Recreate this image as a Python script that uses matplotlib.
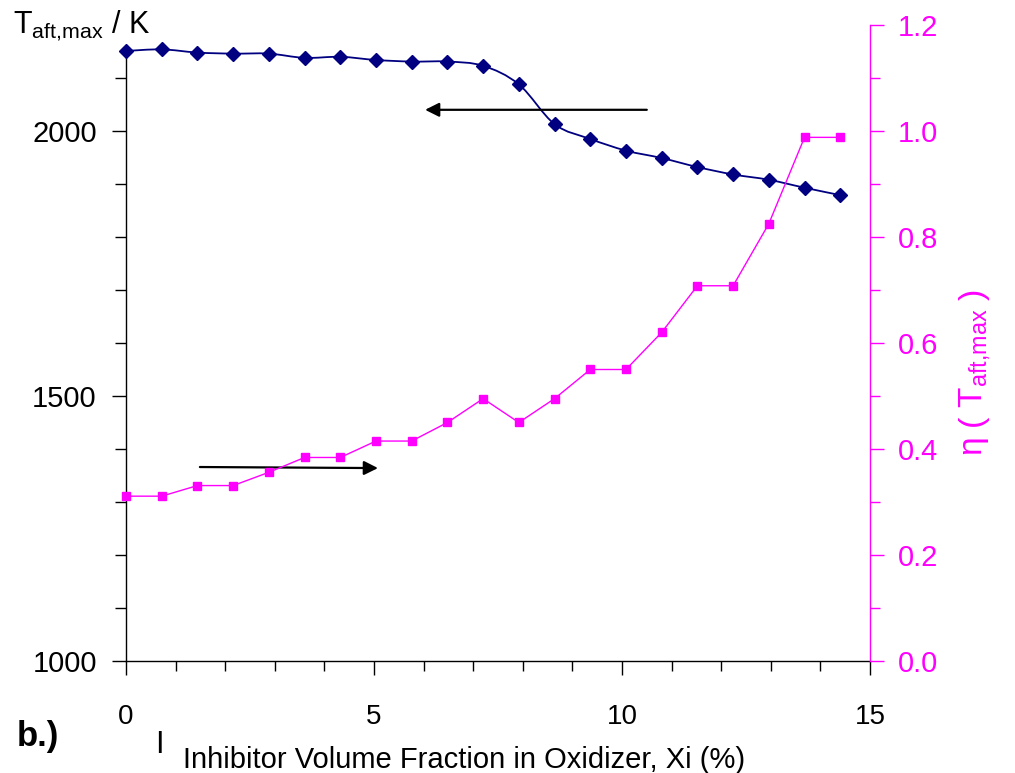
import matplotlib
matplotlib.use("Agg")
import matplotlib.pyplot as plt
from matplotlib.ticker import MultipleLocator, FixedLocator, FormatStrFormatter
from matplotlib.path import Path
from matplotlib.patches import PathPatch

plt.rcParams['font.family'] = ['Liberation Sans', 'DejaVu Sans']
plt.rcParams['mathtext.fontset'] = 'custom'
plt.rcParams['mathtext.rm'] = 'Liberation Sans'
plt.rcParams['mathtext.it'] = 'Liberation Sans:italic'

# inhibitor volume fraction (%)
xi = [0, 0.72, 1.44, 2.16, 2.88, 3.6, 4.32, 5.04, 5.76, 6.48, 7.2,
      7.92, 8.64, 9.36, 10.08, 10.8, 11.52, 12.24, 12.96, 13.68, 14.4]
# max adiabatic flame temperature (K)
t_aft = [2151, 2154, 2148, 2146, 2146, 2138, 2140, 2134, 2131, 2131, 2123,
         2088, 2013, 1985, 1963, 1949, 1932, 1918, 1908, 1893, 1879]
# efficiency eta
eta = [0.311, 0.311, 0.331, 0.331, 0.356, 0.384, 0.384, 0.415, 0.415, 0.450, 0.495,
       0.450, 0.495, 0.550, 0.550, 0.620, 0.708, 0.708, 0.825, 0.988, 0.988]

navy = '#000080'
mag = '#FF00FF'


def smooth_path(x, y):
    # excel style smoothed line: bezier segments through the points
    n = len(x)
    verts = [(x[0], y[0])]
    codes = [Path.MOVETO]
    for i in range(n - 1):
        i0 = max(i - 1, 0)
        i3 = min(i + 2, n - 1)
        c1 = (x[i] + (x[i + 1] - x[i0]) / 6, y[i] + (y[i + 1] - y[i0]) / 6)
        c2 = (x[i + 1] - (x[i3] - x[i]) / 6, y[i + 1] - (y[i3] - y[i]) / 6)
        verts += [c1, c2, (x[i + 1], y[i + 1])]
        codes += [Path.CURVE4] * 3
    return Path(verts, codes)


fig = plt.figure(figsize=(10.15, 7.73), dpi=100)
ax = fig.add_axes([126/1015, 1 - 661/773, (870 - 126)/1015, (661 - 25)/773])
ax2 = ax.twinx()

ax2.plot(xi, eta, color=mag, lw=1.0, marker='s', ms=6, clip_on=False, zorder=3)
ax.add_patch(PathPatch(smooth_path(xi, t_aft), facecolor='none', edgecolor=navy, lw=1.3,
                       zorder=3, clip_on=False))
ax.plot(xi, t_aft, color=navy, ls='none', marker='D', ms=7, clip_on=False, zorder=4)

ax.set_xlim(0, 15)
ax.set_ylim(1000, 2200)
ax2.set_ylim(0, 1.2)

ax.xaxis.set_major_locator(MultipleLocator(5))
ax.xaxis.set_minor_locator(MultipleLocator(1))
ax.yaxis.set_major_locator(FixedLocator([1000, 1500, 2000]))
ax.yaxis.set_minor_locator(FixedLocator([1100, 1200, 1300, 1400, 1600, 1700, 1800, 1900, 2100]))
ax2.yaxis.set_major_locator(MultipleLocator(0.2))
ax2.yaxis.set_minor_locator(MultipleLocator(0.1))
ax2.yaxis.set_major_formatter(FormatStrFormatter('%.1f'))

for s in ['top', 'right']:
    ax.spines[s].set_visible(False)
for s in ['top', 'left', 'bottom']:
    ax2.spines[s].set_visible(False)
ax.spines['left'].set_bounds(1000, 2150)
ax2.spines['right'].set_color(mag)
ax.spines['left'].set_linewidth(1.0)
ax.spines['bottom'].set_linewidth(1.0)
ax2.spines['right'].set_linewidth(1.0)

ax.tick_params(axis='x', which='major', direction='out', length=10, width=1, pad=21, labelsize=20)
ax.tick_params(axis='x', which='minor', direction='out', length=7, width=1)
ax.tick_params(axis='y', which='major', direction='out', length=10, width=1, pad=11, labelsize=21)
ax.tick_params(axis='y', which='minor', direction='out', length=8, width=1)
ax2.tick_params(axis='y', which='major', direction='out', length=10, width=1, pad=10,
                labelsize=21, colors=mag)
ax2.tick_params(axis='y', which='minor', direction='out', length=7, width=1, colors=mag)

# arrows pointing to the relevant axis
ax.annotate('', xy=(6.03, 2040), xytext=(10.5, 2040),
            arrowprops=dict(arrowstyle='-|>', mutation_scale=21, lw=1.6, color='black',
                            shrinkA=0, shrinkB=0))
ax.annotate('', xy=(5.08, 1364), xytext=(1.49, 1366),
            arrowprops=dict(arrowstyle='-|>', mutation_scale=21, lw=1.6, color='black',
                            shrinkA=0, shrinkB=0))

fig.text(13/1015, 1 - 33/773, r'T$_{\mathrm{aft{,}max}}$ / K', fontsize=22, ha='left', va='baseline')
fig.text(975/1015, 1 - 372/773, r'η $\left(\ \mathrm{T}_{\mathrm{aft{,}max}}\ \right)$', fontsize=24,
         color=mag, rotation=90, ha='center', va='center')
fig.text(183/1015, 1 - 768/773, 'Inhibitor Volume Fraction in Oxidizer, Xi (%)', fontsize=21,
         ha='left', va='baseline')
fig.text(155/1015, 1 - 753/773, 'I', fontsize=22, ha='left', va='baseline')
fig.text(17/1015, 1 - 746/773, 'b.)', fontsize=25, fontweight='bold', ha='left', va='baseline')

fig.savefig('out.png', dpi=100)
